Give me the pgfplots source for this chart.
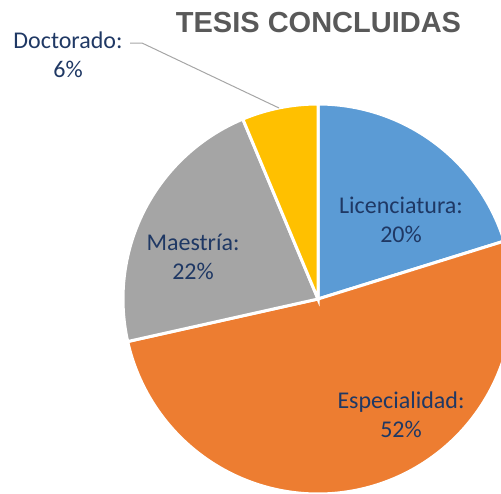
\documentclass[border=0pt]{standalone}
\usepackage{pgfplots}
\pgfplotsset{compat=1.18}
\usepackage{fontspec}
\setmainfont{Carlito}
\newfontfamily\titlefont{Liberation Sans}
\definecolor{cLic}{HTML}{5B9BD5}
\definecolor{cEsp}{HTML}{ED7D31}
\definecolor{cMae}{HTML}{A5A5A5}
\definecolor{cDoc}{HTML}{FFC000}
\definecolor{lbl}{HTML}{1F3864}
\definecolor{ttl}{HTML}{595959}
% shares (percent), clockwise from 12 o'clock
\def\vLic{20.2}
\def\vEsp{51.3}
\def\vMae{22.2}
\def\vDoc{6.3}
\def\cx{318}\def\cy{299}\def\rr{195}
\begin{document}
\begin{tikzpicture}
\begin{axis}[width=501pt,height=493pt,scale only axis,
  xmin=0,xmax=501,ymin=0,ymax=493,y dir=reverse,hide axis,clip=true]
\path (axis cs:0,0) rectangle (axis cs:501,493);
\pgfmathsetmacro{\aA}{0}
\pgfmathsetmacro{\aB}{3.6*\vLic}
\pgfmathsetmacro{\aC}{3.6*(\vLic+\vEsp)}
\pgfmathsetmacro{\aD}{3.6*(\vLic+\vEsp+\vMae)}
\pgfmathsetmacro{\aE}{3.6*(\vLic+\vEsp+\vMae+\vDoc)}
\addplot[fill=cLic,draw=white,line width=3pt,domain=\aA:\aB,samples=80,variable=\t]
  ({\cx+\rr*sin(\t)},{\cy-\rr*cos(\t)}) -- (axis cs:\cx,\cy) -- cycle;
\addplot[fill=cEsp,draw=white,line width=3pt,domain=\aB:\aC,samples=160,variable=\t]
  ({\cx+\rr*sin(\t)},{\cy-\rr*cos(\t)}) -- (axis cs:\cx,\cy) -- cycle;
\addplot[fill=cMae,draw=white,line width=3pt,domain=\aC:\aD,samples=80,variable=\t]
  ({\cx+\rr*sin(\t)},{\cy-\rr*cos(\t)}) -- (axis cs:\cx,\cy) -- cycle;
\addplot[fill=cDoc,draw=white,line width=3pt,domain=\aD:\aE,samples=40,variable=\t]
  ({\cx+\rr*sin(\t)},{\cy-\rr*cos(\t)}) -- (axis cs:\cx,\cy) -- cycle;
\addplot[color=black!35,line width=1pt] coordinates {(130,43) (142,43) (279,108)};
\node[text=ttl,font=\titlefont\bfseries\fontsize{29}{34}\selectfont] at (axis cs:318.5,23) {TESIS CONCLUIDAS};
\node[text=lbl,align=center,font=\fontsize{24}{29}\selectfont] at (axis cs:401,220) {Licenciatura:\\20\%};
\node[text=lbl,align=center,font=\fontsize{24}{29}\selectfont] at (axis cs:401,415) {Especialidad:\\52\%};
\node[text=lbl,align=center,font=\fontsize{24}{29}\selectfont] at (axis cs:193,257) {Maestría:\\22\%};
\node[text=lbl,align=center,font=\fontsize{24}{29}\selectfont] at (axis cs:68,55) {Doctorado:\\6\%};
\end{axis}
\end{tikzpicture}
\end{document}
